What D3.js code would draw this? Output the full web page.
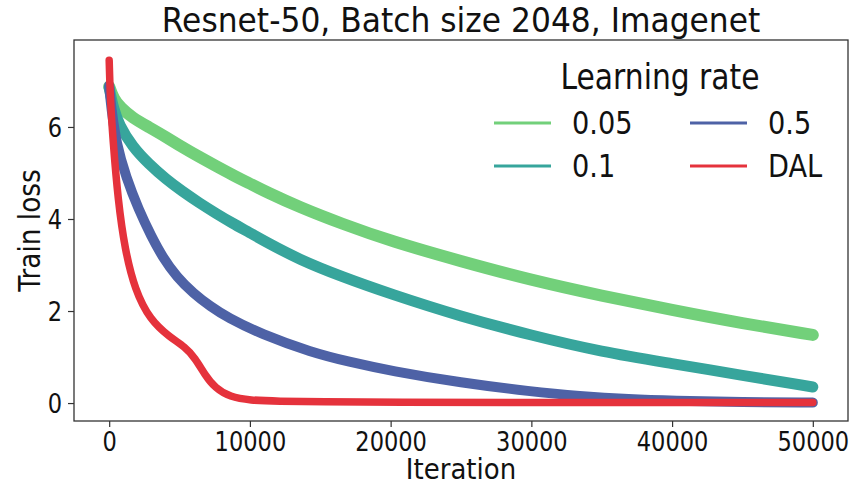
<!DOCTYPE html>
<html>
  <head>
    <meta charset="utf-8" />
    <script src="https://d3js.org/d3.v7.min.js"></script>
    <style>
      body { margin: 0; background: #fff; }
      text { font-family: 'DejaVu Sans', sans-serif; fill: #111; }
    </style>
  </head>
  <body>
    <div id="chart"></div>
    <script>
      // values
      var lrLabels = ['0.05', '0.1', '0.5', 'DAL'];
      var lrColors = ['#72d07a', '#37a59c', '#4e62a6', '#e5323c'];

      var iterLr005 = [0, 300, 800, 1650, 2800, 4050, 5200, 6400, 7600, 8750, 10000, 11150, 13500, 16500, 20000, 25000, 30000, 35000, 40000, 45000, 50000];
      var lossLr005 = [6.88, 6.62, 6.42, 6.2, 6.0, 5.78, 5.56, 5.35, 5.15, 4.96, 4.77, 4.59, 4.26, 3.9, 3.52, 3.08, 2.67, 2.33, 2.02, 1.73, 1.48];

      var iterLr01 = [0, 300, 700, 1650, 2800, 4050, 5200, 6400, 7600, 8750, 10000, 11150, 13500, 16500, 20000, 25000, 30000, 35000, 40000, 45000, 50000];
      var lossLr01 = [6.85, 6.4, 6.05, 5.57, 5.2, 4.86, 4.6, 4.35, 4.12, 3.91, 3.7, 3.5, 3.12, 2.75, 2.37, 1.88, 1.47, 1.11, 0.86, 0.6, 0.35];

      var iterLr05 = [0, 150, 500, 1200, 2100, 3000, 3800, 4800, 6000, 7200, 8400, 10800, 14400, 17000, 20000, 25000, 30000, 33400, 37000, 40000, 45000, 50000];
      var lossLr05 = [6.9, 6.4, 5.65, 4.9, 4.2, 3.62, 3.17, 2.74, 2.38, 2.1, 1.86, 1.5, 1.1, 0.9, 0.7, 0.44, 0.25, 0.15, 0.08, 0.05, 0.02, 0.01];

      var iterDal = [0, 80, 270, 625, 1120, 1830, 2900, 4320, 5390, 6100, 6810, 7520, 8590, 10000, 12000, 15000, 20000, 30000, 40000, 50000];
      var lossDal = [7.45, 6.6, 5.72, 4.41, 3.33, 2.46, 1.81, 1.43, 1.22, 0.98, 0.61, 0.33, 0.13, 0.06, 0.04, 0.03, 0.02, 0.01, 0.01, 0.01];

      var xTicks = [0, 10000, 20000, 30000, 40000, 50000];
      var yTicks = [0, 2, 4, 6];

      var width = 853,
        height = 486;
      var plotL = 74,
        plotR = 848,
        plotT = 40,
        plotB = 421;
      var squeeze = 0.85; // text in the picture is narrower than normal

      var svg = d3
        .select('#chart')
        .append('svg')
        .attr('width', width)
        .attr('height', height);

      var x = d3.scaleLinear().domain([-2500, 52500]).range([plotL, plotR]);
      var y = d3.scaleLinear().domain([-0.39, 7.89]).range([plotB, plotT]);

      // helper for squeezed text
      function label(txt, px, py, size, anchor, rot, sq) {
        return svg
          .append('text')
          .attr(
            'transform',
            'translate(' + px + ',' + py + ') rotate(' + (rot || 0) + ') scale(' + (sq || squeeze) + ',1)'
          )
          .attr('text-anchor', anchor)
          .style('font-size', size + 'px')
          .text(txt);
      }

      // series
      var series = [
        { iter: iterLr005, loss: lossLr005, w: 12 },
        { iter: iterLr01, loss: lossLr01, w: 11 },
        { iter: iterLr05, loss: lossLr05, w: 10 },
        { iter: iterDal, loss: lossDal, w: 7.5 },
      ];

      var line = d3
        .line()
        .x((d) => x(d[0]))
        .y((d) => y(d[1]))
        .curve(d3.curveBasis);

      svg
        .append('g')
        .selectAll('path')
        .data(series)
        .join('path')
        .attr('d', (s) => line(d3.zip(s.iter, s.loss)))
        .attr('fill', 'none')
        .attr('stroke', (s, i) => lrColors[i])
        .attr('stroke-width', (s) => s.w)
        .attr('stroke-linecap', 'round')
        .attr('stroke-linejoin', 'round');

      // axes
      var xAxis = svg
        .append('g')
        .attr('transform', 'translate(0,' + plotB + ')')
        .call(d3.axisBottom(x).tickValues(xTicks).tickFormat(d3.format('d')).tickSize(6).tickPadding(4));
      var yAxis = svg
        .append('g')
        .attr('transform', 'translate(' + plotL + ',0)')
        .call(d3.axisLeft(y).tickValues(yTicks).tickSize(6).tickPadding(5));

      [xAxis, yAxis].forEach(function (a) {
        a.select('.domain').remove();
        a.selectAll('line').attr('stroke', '#333').attr('stroke-width', 1.2);
        a.selectAll('text')
          .attr('font-family', null)
          .style('font-size', '26.5px')
          .style('fill', '#111');
      });
      xAxis.selectAll('text').attr('dy', '0.72em').attr('y', 11).attr('transform', 'scale(' + squeeze + ',1)');
      yAxis.selectAll('text').attr('x', -12 / squeeze).attr('dy', '0.36em').attr('transform', 'scale(' + squeeze + ',1)');

      // frame
      svg
        .append('rect')
        .attr('x', plotL)
        .attr('y', plotT)
        .attr('width', plotR - plotL)
        .attr('height', plotB - plotT)
        .attr('fill', 'none')
        .attr('stroke', '#333')
        .attr('stroke-width', 1.3);

      // titles
      label('Resnet-50, Batch size 2048, Imagenet', (plotL + plotR) / 2, 32, 33, 'middle', 0, 0.95);
      label('Iteration', (plotL + plotR) / 2, 479, 28, 'middle', 0, 0.93);
      label('Train loss', 40, (plotT + plotB) / 2, 31, 'middle', -90);

      // legend
      label('Learning rate', 660, 89, 35, 'middle');
      var legendPos = [
        [494, 123],
        [494, 166],
        [690, 123],
        [690, 166],
      ];
      lrLabels.forEach(function (name, i) {
        var p = legendPos[i];
        svg
          .append('line')
          .attr('x1', p[0])
          .attr('x2', p[0] + 57)
          .attr('y1', p[1])
          .attr('y2', p[1])
          .attr('stroke', lrColors[i])
          .attr('stroke-width', 3);
        label(name, p[0] + 78, p[1] + 11, 32, 'start');
      });
    </script>
  </body>
</html>
